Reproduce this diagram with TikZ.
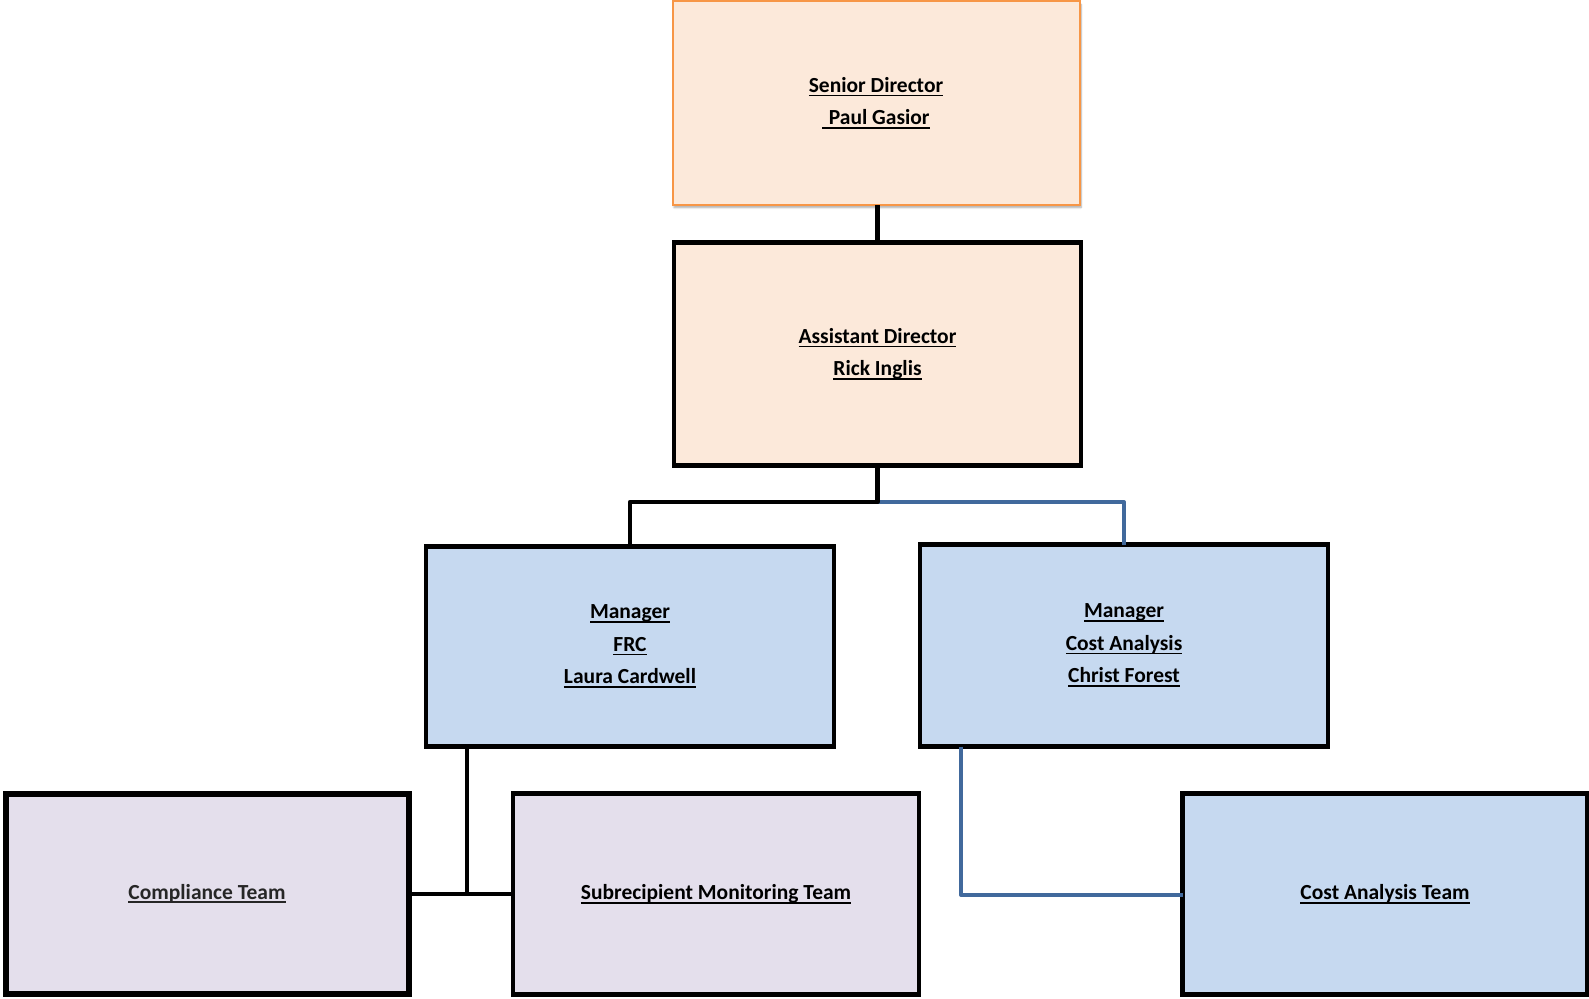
\documentclass[tikz,border=0pt]{standalone}
\usepackage{fontspec}
\setmainfont{Carlito}
\usetikzlibrary{shadows.blur}
\definecolor{peach}{HTML}{FCE9DA}
\definecolor{orangeb}{HTML}{F79646}
\definecolor{ltblue}{HTML}{C6D9F0}
\definecolor{lilac}{HTML}{E4DFEC}
\definecolor{linkblue}{HTML}{41699C}
\newcommand\myul[1]{\setbox0\hbox{#1}\leavevmode\rlap{\rule[-4pt]{\wd0}{1.7pt}}\box0}
\tikzset{
  box/.style={rectangle, inner sep=0pt, outer sep=0pt, draw=black, line width=4.5pt,
    align=center, font=\fontsize{21.5pt}{32.5pt}\selectfont\bfseries},
  link/.style={line width=4.5pt, draw=black},
  bluelink/.style={line width=4pt, draw=linkblue},
}
\begin{document}
\begin{tikzpicture}[x=1pt,y=-1pt]
\useasboundingbox (0,0) rectangle (1589,998);
\node[box, fill=peach, draw=orangeb, line width=2pt, minimum width=407pt, minimum height=203pt,
  blur shadow={shadow xshift=1.5pt, shadow yshift=-3pt, shadow blur steps=6, shadow opacity=35}]
  (sen) at (876,103) {\myul{Senior Director}\\[0pt]\myul{\hspace{0.3em}Paul Gasior}};
\node[box, fill=peach, minimum width=407pt, minimum height=223pt] (ad) at (877.5,354)
  {\myul{Assistant Director}\\\myul{Rick Inglis}};
\node[box, fill=ltblue, minimum width=408pt, minimum height=200pt] (frc) at (630,646.5)
  {\myul{Manager}\\\myul{FRC}\\\myul{Laura Cardwell}};
\node[box, fill=ltblue, minimum width=408pt, minimum height=202pt] (ca) at (1124,645.5)
  {\myul{Manager}\\\myul{Cost Analysis}\\\myul{Christ Forest}};
\node[box, fill=lilac, line width=6pt, minimum width=403pt, minimum height=200pt, text=black!85] (comp) at (207,893.5)
  {\myul{Compliance Team}};
\node[box, fill=lilac, minimum width=406pt, minimum height=201pt] (sub) at (716,894)
  {\myul{Subrecipient Monitoring Team}};
\node[box, fill=ltblue, minimum width=405pt, minimum height=201pt] (cat) at (1385,894)
  {\myul{Cost Analysis Team}};
% connectors
\coordinate (j1) at (877.5,502);
\coordinate (j2) at (467,894);
\coordinate (j3) at (961,895);
\draw[link] (ad.north) -- (ad.north |- sen.south);
\draw[bluelink, line join=round] (j1) -| (ca.north);
\draw[link, line join=round] (ad.south) -- (j1) -| (frc.north);
\draw[link] (j2 |- frc.south) -- (j2);
\draw[link] (comp.east |- j2) -- (sub.west |- j2);
\draw[bluelink, line join=round] (j3 |- ca.south) |- (cat.west |- j3);
\end{tikzpicture}
\end{document}
